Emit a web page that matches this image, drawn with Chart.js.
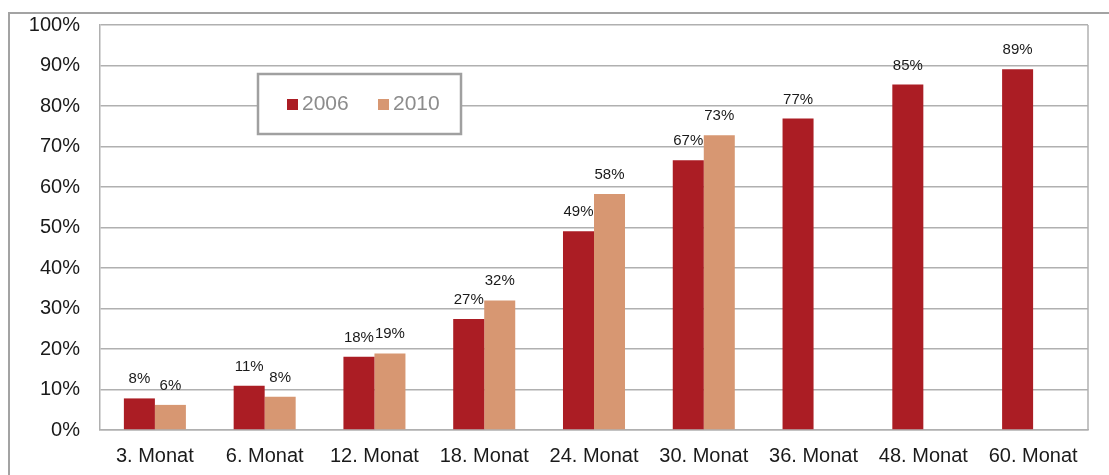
<!DOCTYPE html>
<html>
<head>
<meta charset="utf-8">
<script src="https://cdn.jsdelivr.net/npm/chart.js@4/dist/chart.umd.min.js"></script>
<style>
    html, body { margin: 0; padding: 0; background: #fff; }
    #wrap { position: relative; width: 1109px; height: 475px; overflow: hidden; }
    #frame { position: absolute; left: 8px; top: 12px; width: 1200px; height: 600px;
             border-left: 2px solid #a3a3a3; border-top: 2px solid #a3a3a3; }
    canvas { position: absolute; left: 0; top: 0; }
</style>
</head>
<body>
<div id="wrap">
    <div id="frame"></div>
    <canvas id="chart" width="1109" height="475"></canvas>
</div>
<script>
// Chart data
const categories = ['3. Monat', '6. Monat', '12. Monat', '18. Monat', '24. Monat', '30. Monat', '36. Monat', '48. Monat', '60. Monat'];
const values2006 = [7.8, 10.9, 18.1, 27.4, 49.1, 66.6, 76.9, 85.3, 89.1];
const values2010 = [6.2, 8.2, 18.9, 32.0, 58.3, 72.8, null, null, null];
const labels2006 = ['8%', '11%', '18%', '27%', '49%', '67%', '77%', '85%', '89%'];
const labels2010 = ['6%', '8%', '19%', '32%', '58%', '73%', null, null, null];
const seriesNames = ['2006', '2010'];
const yTicks = [0, 10, 20, 30, 40, 50, 60, 70, 80, 90, 100];

const RED = '#ab1d24';
const ORANGE = '#d79772';

// Value labels above bars
const valueLabels = {
    id: 'valueLabels',
    afterDatasetsDraw(chart) {
        const ctx = chart.ctx;
        const texts = [labels2006, labels2010];
        ctx.save();
        ctx.font = '15px "Liberation Sans", Arial, sans-serif';
        ctx.fillStyle = '#1a1a1a';
        ctx.textAlign = 'center';
        ctx.textBaseline = 'alphabetic';
        chart.data.datasets.forEach((ds, i) => {
            const meta = chart.getDatasetMeta(i);
            meta.data.forEach((bar, j) => {
                if (ds.data[j] == null) return;
                ctx.fillText(texts[i][j], bar.x, bar.y - 15);
            });
        });
        ctx.restore();
    }
};

// Plot border + boxed legend
const boxLegend = {
    id: 'boxLegend',
    afterDraw(chart) {
        const ctx = chart.ctx;
        const a = chart.chartArea;
        ctx.save();
        ctx.strokeStyle = '#b0b0b0';
        ctx.lineWidth = 1.5;
        ctx.beginPath();
        ctx.moveTo(a.right, a.top);
        ctx.lineTo(a.right, a.bottom);
        ctx.stroke();

        // legend box
        ctx.fillStyle = '#fff';
        ctx.fillRect(258, 74, 203, 60);
        ctx.strokeStyle = '#a0a0a0';
        ctx.lineWidth = 2.5;
        ctx.strokeRect(258, 74, 203, 60);

        ctx.font = '21px "Liberation Sans", Arial, sans-serif';
        ctx.textBaseline = 'middle';
        ctx.textAlign = 'left';
        const items = [[287, RED], [378, ORANGE]];
        items.forEach((it, i) => {
            ctx.fillStyle = it[1];
            ctx.fillRect(it[0], 99, 11, 11);
            ctx.fillStyle = '#8c8c8c';
            ctx.fillText(seriesNames[i], it[0] + 15, 104);
        });
        ctx.restore();
    }
};

new Chart(document.getElementById('chart'), {
    type: 'bar',
    data: {
        labels: categories,
        datasets: [
            { label: seriesNames[0], data: values2006, backgroundColor: RED },
            { label: seriesNames[1], data: values2010, backgroundColor: ORANGE }
        ]
    },
    options: {
        responsive: false,
        animation: false,
        layout: { padding: { left: 10, top: 25, right: 21, bottom: 0 } },
        datasets: { bar: { categoryPercentage: 0.565, barPercentage: 1.0 } },
        plugins: { legend: { display: false }, tooltip: { enabled: false } },
        scales: {
            x: {
                grid: { display: false },
                border: { color: '#b0b0b0', width: 1.5 },
                ticks: {
                    color: '#1a1a1a',
                    padding: 6,
                    maxRotation: 0,
                    autoSkip: false,
                    font: { family: '"Liberation Sans", Arial, sans-serif', size: 20 }
                },
                afterFit: (scale) => { scale.height = 45; }
            },
            y: {
                min: 0,
                max: 100,
                afterBuildTicks: (scale) => { scale.ticks = yTicks.map(v => ({ value: v })); },
                grid: { color: '#b0b0b0', lineWidth: 1.5, drawTicks: false },
                border: { color: '#b0b0b0', width: 1.5 },
                ticks: {
                    color: '#1a1a1a',
                    padding: 20,
                    callback: (v) => v + '%',
                    font: { family: '"Liberation Sans", Arial, sans-serif', size: 20 }
                },
                afterFit: (scale) => { scale.width = 90; scale.paddingTop = 0; }
            }
        }
    },
    plugins: [valueLabels, boxLegend]
});
</script>
</body>
</html>
